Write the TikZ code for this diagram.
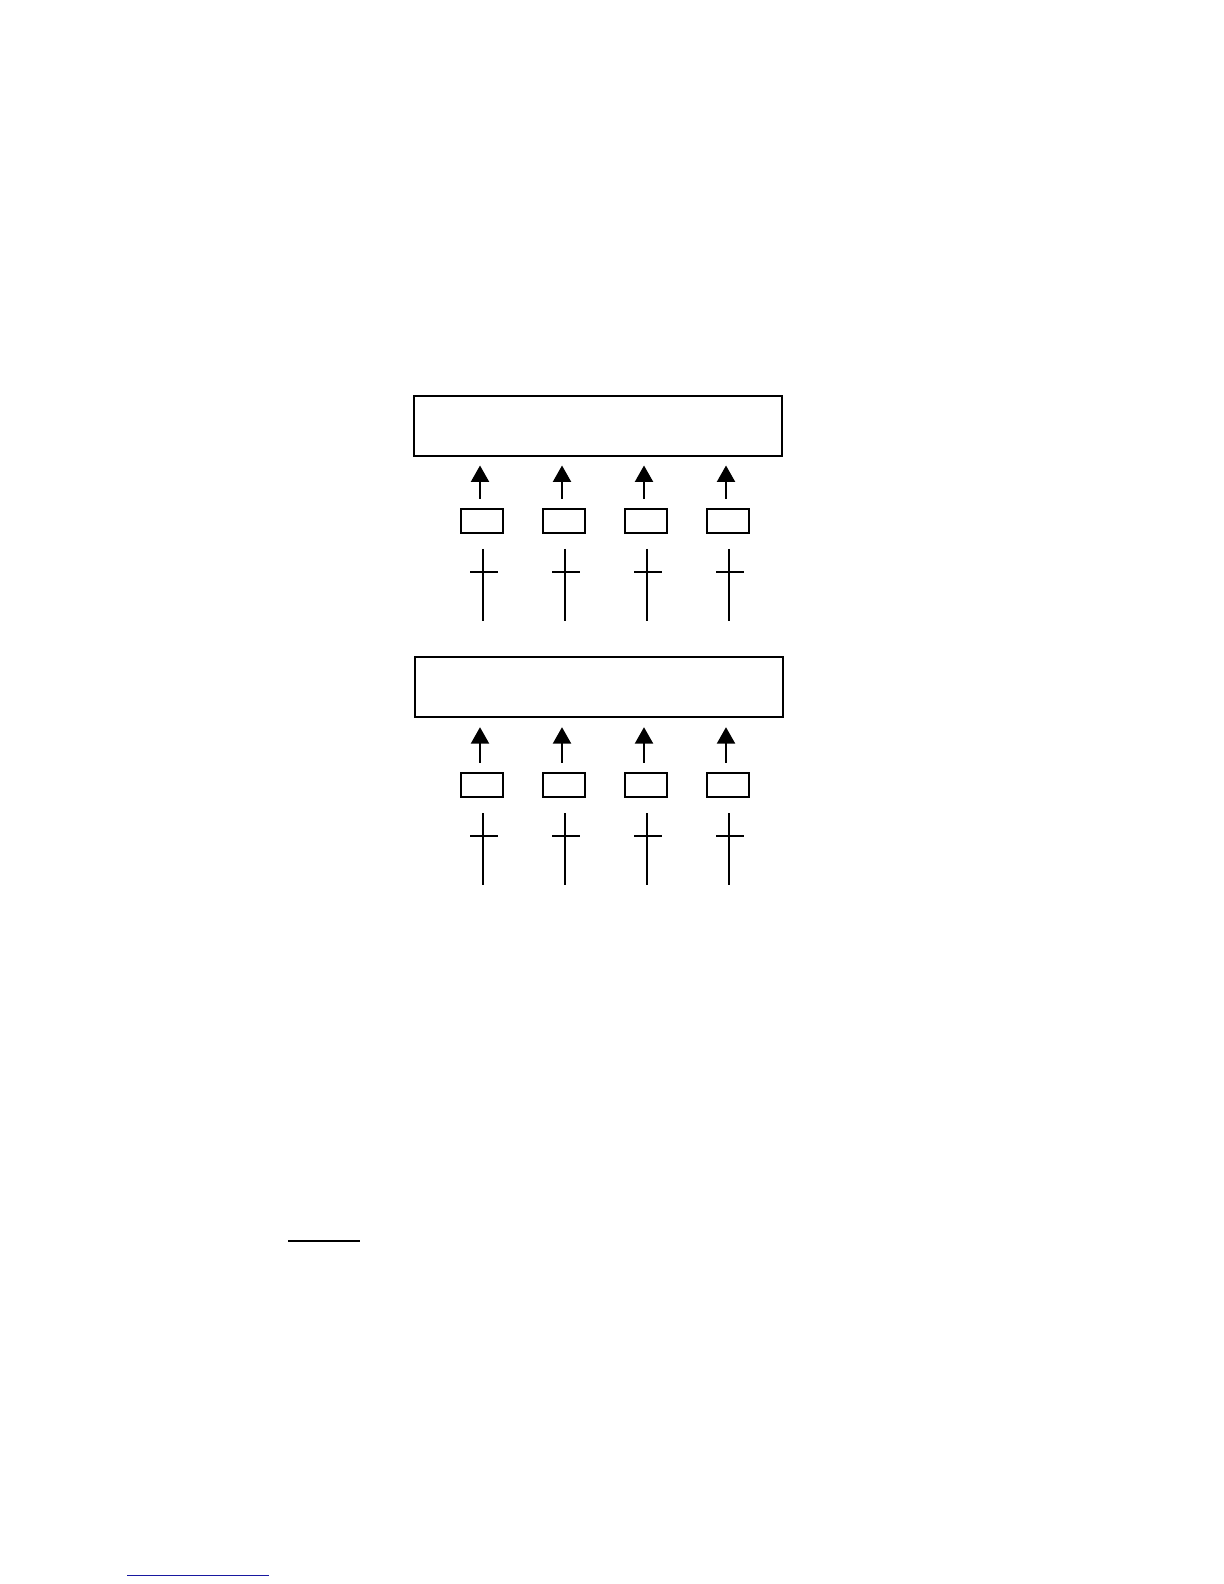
\documentclass[tikz,border=0pt]{standalone}
\usepackage{xcolor}
\usepackage{tikz}
\usetikzlibrary{arrows}
\usetikzlibrary{arrows.meta}
\usetikzlibrary{positioning}

\definecolor{linkblue}{RGB}{24,24,160}

\begin{document}
\begin{tikzpicture}[x=0.5pt, y=-0.5pt, line width=1pt]
\useasboundingbox (0,0) rectangle (1224,1584);

\begin{scope}[every node/.style={draw=black, line width=1pt, inner sep=0pt}]
    \node[minimum width=184pt, minimum height=30pt] (reg1) at (597.5,425.5) {};
    \node[minimum width=184pt, minimum height=30pt] (reg2) at (598.5,687.2) {};
\end{scope}

\begin{scope}[every node/.style={draw=black, line width=1pt, inner sep=0pt, minimum width=20.8pt, minimum height=12pt}]
    \node (c11) at (482,520.8) {};
    \node (c12) at (564,520.8) {};
    \node (c13) at (646,520.8) {};
    \node (c14) at (728,520.8) {};
    \node (c21) at (482,784.7) {};
    \node (c22) at (564,784.7) {};
    \node (c23) at (646,784.7) {};
    \node (c24) at (728,784.7) {};
\end{scope}

\begin{scope}[>={Triangle[length=8.2pt, width=9pt, black]},
              every edge/.style={draw=black, line width=1pt, shorten >=4.5pt, shorten <=4.5pt}]
    \path [->] ([xshift=-1pt]c11.north) edge ([xshift=-1pt]c11.north |- reg1.south);
    \path [->] ([xshift=-1pt]c12.north) edge ([xshift=-1pt]c12.north |- reg1.south);
    \path [->] ([xshift=-1pt]c13.north) edge ([xshift=-1pt]c13.north |- reg1.south);
    \path [->] ([xshift=-1pt]c14.north) edge ([xshift=-1pt]c14.north |- reg1.south);
    \path [->] ([xshift=-1pt]c21.north) edge ([xshift=-1pt]c21.north |- reg2.south);
    \path [->] ([xshift=-1pt]c22.north) edge ([xshift=-1pt]c22.north |- reg2.south);
    \path [->] ([xshift=-1pt]c23.north) edge ([xshift=-1pt]c23.north |- reg2.south);
    \path [->] ([xshift=-1pt]c24.north) edge ([xshift=-1pt]c24.north |- reg2.south);
\end{scope}

\begin{scope}[line width=0.9pt]
    \draw ([xshift=0.4pt, yshift=-7.5pt]c11.south) -- ++(0,72) ++(-12.7,-49) -- ++(27.7,0);
    \draw ([xshift=0.4pt, yshift=-7.5pt]c12.south) -- ++(0,72) ++(-12.7,-49) -- ++(27.7,0);
    \draw ([xshift=0.4pt, yshift=-7.5pt]c13.south) -- ++(0,72) ++(-12.7,-49) -- ++(27.7,0);
    \draw ([xshift=0.4pt, yshift=-7.5pt]c14.south) -- ++(0,72) ++(-12.7,-49) -- ++(27.7,0);
    \draw ([xshift=0.4pt, yshift=-7.8pt]c21.south) -- ++(0,72) ++(-12.7,-49.6) -- ++(27.7,0);
    \draw ([xshift=0.4pt, yshift=-7.8pt]c22.south) -- ++(0,72) ++(-12.7,-49.6) -- ++(27.7,0);
    \draw ([xshift=0.4pt, yshift=-7.8pt]c23.south) -- ++(0,72) ++(-12.7,-49.6) -- ++(27.7,0);
    \draw ([xshift=0.4pt, yshift=-7.8pt]c24.south) -- ++(0,72) ++(-12.7,-49.6) -- ++(27.7,0);
\end{scope}

% rules at the foot of the page
\draw [line width=0.65pt] (288,1241) -- (360,1241);
\draw [linkblue, line width=0.5pt] (127,1575) -- (269,1575);

\end{tikzpicture}
\end{document}
